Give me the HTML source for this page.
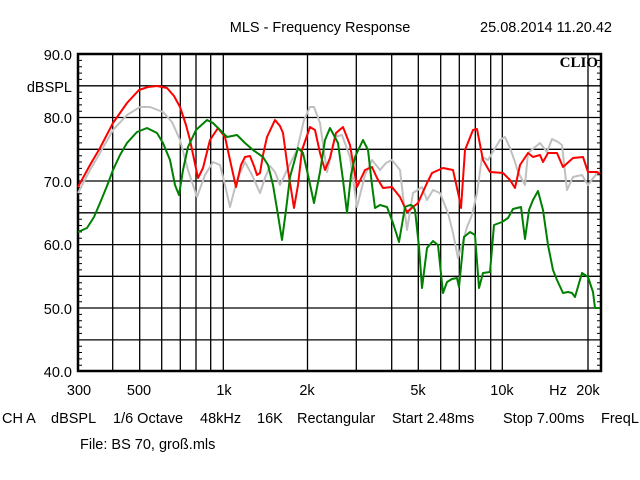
<!DOCTYPE html>
<html><head><meta charset="utf-8"><style>
body{margin:0;background:#fff;width:640px;height:480px;overflow:hidden}
svg{display:block}
text{font-family:"Liberation Sans",Arial,sans-serif;font-size:14.5px;fill:#000}
</style></head><body>
<svg width="640" height="480" viewBox="0 0 640 480" xmlns="http://www.w3.org/2000/svg">
<text x="320" y="32" text-anchor="middle">MLS - Frequency Response</text>
<text x="612" y="32" text-anchor="end">25.08.2014 11.20.42</text>
<g stroke="#000" stroke-width="1.3" fill="none">
<path d="M78 85.8H601M78 117.5H601M78 149.3H601M78 181H601M78 212.8H601M78 244.6H601M78 276.3H601M78 308H601M78 339.9H601"/>
<path d="M112.7 54V371M139.7 54V371M161.7 54V371M180.3 54V371M196 54V371M210.7 54V371M223.3 54V371M307.5 54V371M356.3 54V371M391.7 54V371M418.3 54V371M440.7 54V371M459.3 54V371M475.3 54V371M490.7 54V371M502.3 54V371M588 54V371"/>
</g>
<g id="tk" stroke="#000" stroke-width="1">
<path d="M78 60.4h4M78 66.7h4M78 73.1h4M78 79.4h4M78 92.2h4M78 98.5h4M78 104.9h4M78 111.2h4M78 123.9h4M78 130.2h4M78 136.6h4M78 142.9h4M78 155.7h4M78 162h4M78 168.4h4M78 174.7h4M78 187.4h4M78 193.7h4M78 200.1h4M78 206.4h4M78 219.2h4M78 225.5h4M78 231.9h4M78 238.2h4M78 250.9h4M78 257.2h4M78 263.6h4M78 269.9h4M78 282.7h4M78 289h4M78 295.4h4M78 301.7h4M78 314.4h4M78 320.7h4M78 327.1h4M78 333.4h4M78 346.2h4M78 352.5h4M78 358.9h4M78 365.2h4"/>
</g>
<use href="#tk" transform="translate(519 0)"/>
<rect x="78" y="54" width="523" height="317" fill="none" stroke="#000" stroke-width="2.5"/>
<text x="598" y="67" text-anchor="end" style="font-family:'Liberation Serif',serif;font-weight:bold;font-size:15px">CLIO</text>
<g fill="none" stroke-width="2" stroke-linejoin="round">
<polyline stroke="#c0c0c0" points="78,193 90,170 100,153 113,130 127,115 140,107 150,107 163,112 172,122 180,140 188,170 197,197 205,175 213,162 220,165 225,185 230,207 237,180 245,162 252,175 260,193 265,178 270,166 275,172 280,185 288,168 297,150 304,120 310,107 314,107 320,123 327,172 335,137 342,135 350,157 357,207 365,175 372,160 380,170 386,163 392,160 400,170 407,230 413,193 422,187 427,200 433,190 440,193 448,213 453,233 458,258 462,245 467,227 472,215 477,193 482,157 488,160 494,150 500,140 505,137 510,148 515,162 518,172 525,185 528,153 534,148 540,143 547,152 552,139 558,142 562,145 567,190 573,177 582,175 588,185 597,173 600,172"/>
<polyline stroke="#ff0000" points="78,187 90,165 100,148 113,123 127,103 139,90 148,87 157,86 167,88 174,96 180,107 186,125 190,140 198,178 203,168 210,140 218,128 225,137 230,160 236,187 241,165 245,157 250,156 254,166 257,175 260,173 263,155 267,137 275,120 280,126 283,133 288,170 294,208 298,185 302,150 310,127 315,130 320,153 325,170 330,158 336,133 343,127 350,145 357,187 365,170 372,167 377,178 383,188 392,187 400,197 407,212 413,207 418,203 427,183 432,173 443,168 453,170 459,197 461,208 465,150 473,130 477,129 483,160 490,172 503,173 510,180 515,188 520,165 528,153 533,157 540,155 543,162 548,153 557,153 563,167 573,158 583,157 588,172 597,172 600,174"/>
<polyline stroke="#008000" points="78,232 87,228 94,217 100,203 107,186 113,170 120,155 127,143 137,132 147,128 157,133 163,143 170,160 175,185 179,195 183,170 188,147 196,130 207,120 213,123 220,130 227,137 237,135 245,143 253,150 263,157 268,165 273,185 278,215 282,240 286,210 290,177 298,148 303,153 308,175 314,203 320,172 325,140 330,128 338,143 343,180 347,213 351,175 355,157 363,140 368,150 372,185 375,208 380,205 387,207 393,223 399,242 405,207 410,205 413,206 415,210 419,247 422,288 427,248 433,241 438,245 443,293 447,282 452,279 457,278 459,287 464,237 470,232 475,235 479,288 483,273 490,272 494,225 502,222 508,218 513,209 521,207 525,239 529,210 533,200 538,191 543,210 548,245 553,270 557,280 563,293 568,292 572,293 575,297 582,273 588,277 593,292 595,308 600,308"/>
</g>
<g text-anchor="end">
<text x="72" y="60">90.0</text>
<text x="72" y="92">dBSPL</text>
<text x="72" y="123">80.0</text>
<text x="72" y="187">70.0</text>
<text x="72" y="250">60.0</text>
<text x="72" y="314">50.0</text>
<text x="72" y="377">40.0</text>
</g>
<g text-anchor="middle">
<text x="79" y="395">300</text>
<text x="139" y="395">500</text>
<text x="224" y="395">1k</text>
<text x="307" y="395">2k</text>
<text x="418" y="395">5k</text>
<text x="502" y="395">10k</text>
<text x="558" y="395">Hz</text>
<text x="588" y="395">20k</text>
</g>
<text x="2" y="423">CH A</text>
<text x="51" y="423">dBSPL</text>
<text x="113" y="423">1/6 Octave</text>
<text x="200" y="423">48kHz</text>
<text x="257" y="423">16K</text>
<text x="297" y="423">Rectangular</text>
<text x="392" y="423">Start 2.48ms</text>
<text x="503" y="423">Stop 7.00ms</text>
<text x="601" y="423">FreqL</text>
<text x="80" y="449">File: BS 70, groß.mls</text>
</svg>
</body></html>
